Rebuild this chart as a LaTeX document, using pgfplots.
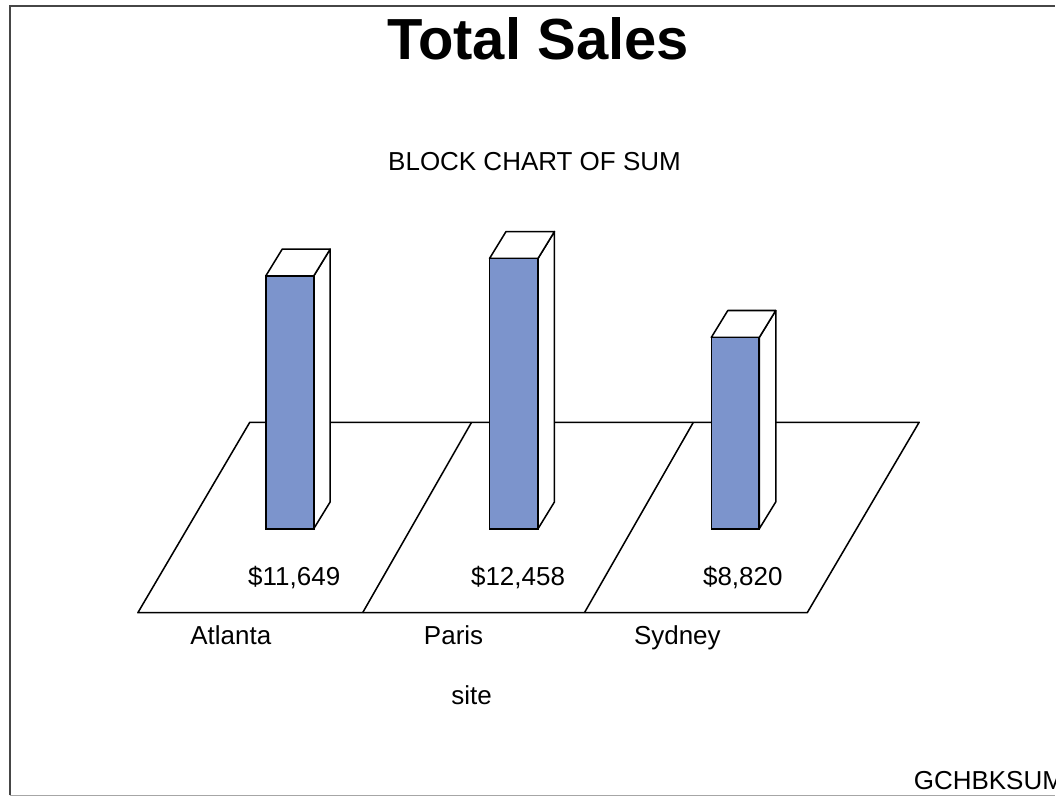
\documentclass[border=0pt]{standalone}
\usepackage{fontspec}
\setmainfont{Liberation Sans}
\usepackage{pgfplots}
\pgfplotsset{compat=1.18}

\definecolor{blockblue}{RGB}{124,148,204}
\definecolor{framegray}{RGB}{70,70,70}

% x is in image pixels, y is in dollars (floor of the blocks at 0)
\newcommand{\block}[3]{%
  % #1 left, #2 right, #3 value; depth is 16.5 px across and 1240 dollars up
  \pgfmathsetmacro{\xr}{#2+16.5}
  \pgfmathsetmacro{\yt}{#3+1240}
  \edef\temp{\noexpand\addplot[draw=black,fill=white,line width=1.15pt,line join=round] coordinates {(#2,0) (\xr,1240) (\xr,\yt) (#2,#3)} --cycle;}\temp
  \edef\temp{\noexpand\addplot[draw=black,fill=white,line width=1.15pt,line join=round] coordinates {(#1,#3) (#2,#3) (\xr,\yt) (#1+16.5,\yt)} --cycle;}\temp
  \addplot[draw=black,fill=blockblue,line width=1.2pt] coordinates {(#1,0) (#2,0) (#2,#3) (#1,#3)} --cycle;
}

\begin{document}
\begin{tikzpicture}[txt/.style={anchor=base,font=\fontsize{19.5}{23}\selectfont}]
\begin{axis}[
    scale only axis,
    width=792pt, height=597.75pt,
    xmin=0, xmax=1056,
    ymin=-12325, ymax=24369,
    hide axis,
    clip=false,
]
% keeps the page as large as the reference
\addplot[draw=white,line width=0pt] coordinates {(0,-12325) (1056,-12325) (1056,24369) (0,24369)} --cycle;

% outer frame
\addplot[draw=framegray,line width=1.5pt] coordinates {(10.5,-12290) (10.5,24115) (1056,24115)};
\addplot[draw=gray!70,line width=0.8pt] coordinates {(10.5,-12290) (1056,-12290)};

% floor
\addplot[draw=black,line width=1.15pt,line join=round] coordinates {(138,-3867) (808,-3867) (920,4908) (250,4908)} --cycle;
\addplot[draw=black,line width=1.15pt] coordinates {(363,-3867) (472,4908)};
\addplot[draw=black,line width=1.15pt] coordinates {(585,-3867) (694,4908)};

% blocks
\block{266}{314}{11649}
\block{490}{538.5}{12458}
\block{712}{760}{8820}

% text
\node[anchor=base,font=\fontsize{43.5}{50}\selectfont\bfseries] at (axis cs:538.5,21607) {Total Sales};
\node[txt] at (axis cs:535,16497) {BLOCK CHART OF SUM};
\node[txt] at (axis cs:294.5,-2610) {\$11,649};
\node[txt] at (axis cs:518.5,-2610) {\$12,458};
\node[txt] at (axis cs:743.5,-2610) {\$8,820};
\node[txt] at (axis cs:231,-5327) {Atlanta};
\node[txt] at (axis cs:454,-5327) {Paris};
\node[txt] at (axis cs:678,-5327) {Sydney};
\node[txt] at (axis cs:472,-8090) {site};
\node[txt,overlay,anchor=base west] at (axis cs:910,-12003) {GCHBKSUM};
\end{axis}
\end{tikzpicture}
\end{document}
